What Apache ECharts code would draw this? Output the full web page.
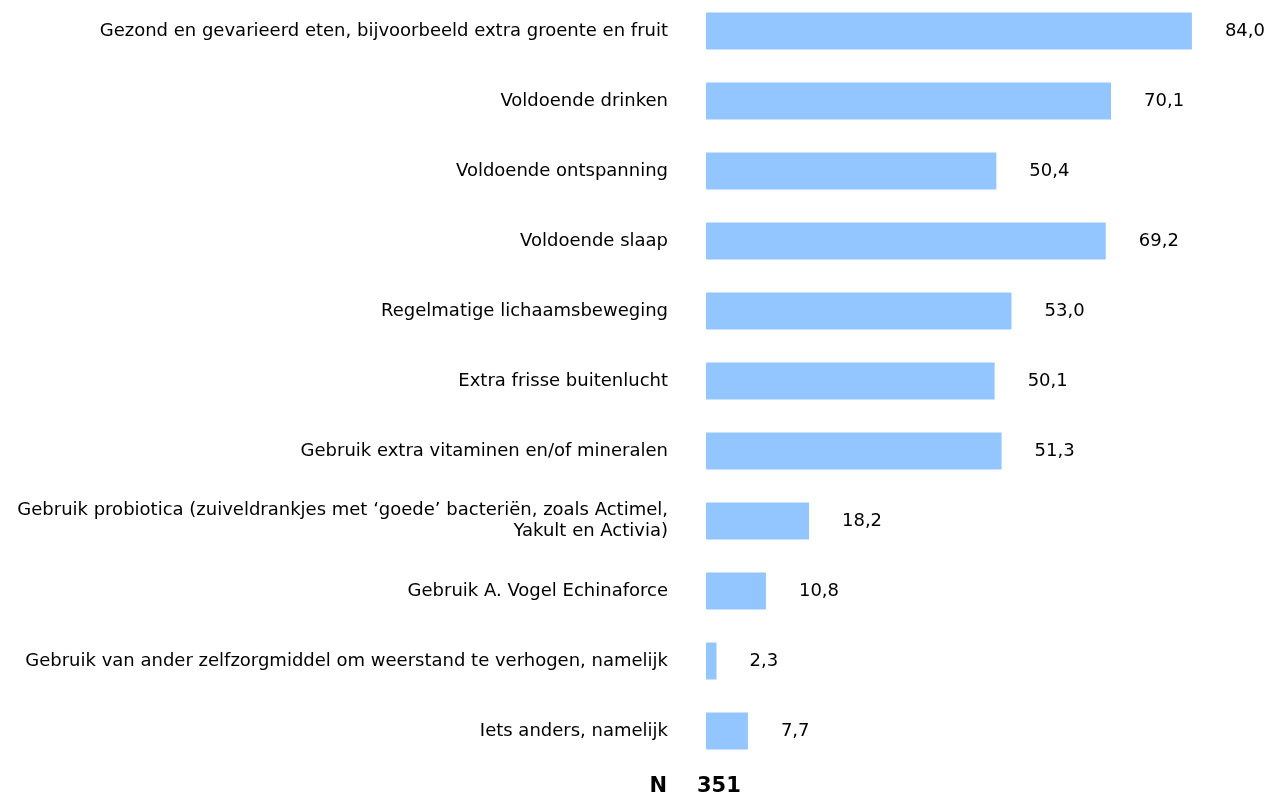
<!DOCTYPE html>
<html>
<head>
<meta charset="utf-8">
<script src="https://cdn.jsdelivr.net/npm/echarts@6/dist/echarts.min.js"></script>
<style>
  html, body { margin: 0; padding: 0; background: #fff; }
  #chart { width: 1268px; height: 794px; }
</style>
</head>
<body>
<div id="chart"></div>
<script>
// categorieën (van boven naar beneden)
const categories = [
  "Gezond en gevarieerd eten, bijvoorbeeld extra groente en fruit",
  "Voldoende drinken",
  "Voldoende ontspanning",
  "Voldoende slaap",
  "Regelmatige lichaamsbeweging",
  "Extra frisse buitenlucht",
  "Gebruik extra vitaminen en/of mineralen",
  "Gebruik probiotica (zuiveldrankjes met ‘goede’ bacteriën, zoals Actimel,\nYakult en Activia)",
  "Gebruik A. Vogel Echinaforce",
  "Gebruik van ander zelfzorgmiddel om weerstand te verhogen, namelijk",
  "Iets anders, namelijk",
]
// percentages
const values = [84.0, 70.1, 50.4, 69.2, 53.0, 50.1, 51.3, 18.2, 10.8, 2.3, 7.7]
const nLabel = "N"
const nValue = "351"

const font = "'DejaVu Sans', Verdana, sans-serif"
const myChart = echarts.init(document.getElementById("chart"))

const option = {
  animation: false,
  grid: {
    left: 706,
    width: 579,
    top: -4,
    height: 770,
    containLabel: false,
    outerBoundsMode: "none",
  },
  xAxis: {
    type: "value",
    min: 0.5,
    max: 100,
    show: false,
  },
  yAxis: {
    type: "category",
    data: categories,
    inverse: true,
    axisLine: { show: false },
    axisTick: { show: false },
    splitLine: { show: false },
    axisLabel: {
      margin: 38,
      color: "#000",
      fontFamily: font,
      fontSize: 18,
      lineHeight: 21,
    },
  },
  series: [
    {
      type: "bar",
      data: values,
      barWidth: 37,
      itemStyle: { color: "#93C6FF" },
      label: {
        show: true,
        position: "right",
        distance: 33,
        color: "#000",
        fontFamily: font,
        fontSize: 18,
        formatter: (p) => p.value.toFixed(1).replace(".", ","),
      },
    },
  ],
  graphic: [
    {
      type: "text",
      right: 1268 - 667,
      top: 776,
      style: { text: nLabel, font: "bold 21px " + font, fill: "#000" },
    },
    {
      type: "text",
      left: 697,
      top: 776,
      style: { text: nValue, font: "bold 21px " + font, fill: "#000" },
    },
  ],
}

myChart.setOption(option)
</script>
</body>
</html>
